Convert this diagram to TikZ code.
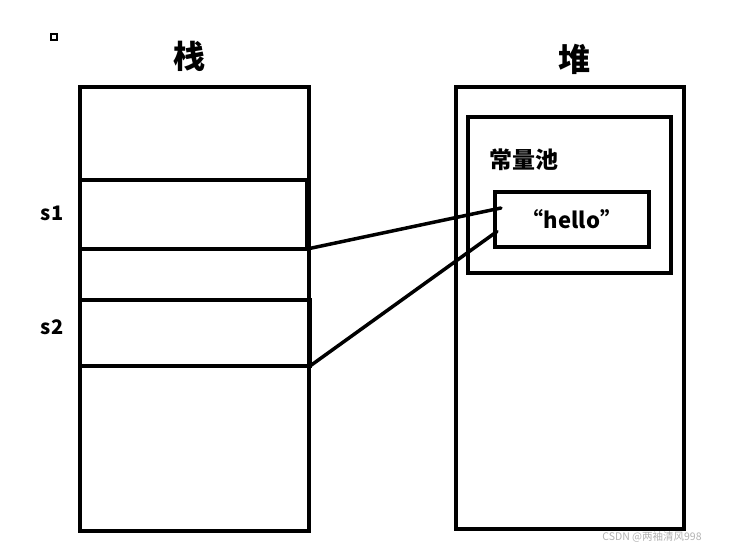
\documentclass[tikz,border=0pt]{standalone}
\usepackage{fontspec}
\setmainfont{Noto Sans CJK SC}
\usetikzlibrary{calc,positioning}

\begin{document}
\begin{tikzpicture}[
    x=1pt, y=-1pt,
    frame/.style={draw, line width=3.5pt, line join=miter, inner sep=0pt, outer sep=0pt},
    title/.style={font=\bfseries\fontsize{32}{34}\selectfont},
    label/.style={font=\bfseries\fontsize{20}{22}\selectfont},
    link/.style={draw, line width=3.5pt, line cap=round}
]
\useasboundingbox (0,0) rectangle (740,549);
% small marker top left
\node[draw, line width=1.2pt, minimum size=6pt, inner sep=0pt] (mark) at (54,37) {};
% stack
\node[title] (stacktitle) at (189,56) {栈};
\node[frame, minimum width=229pt, minimum height=444pt, anchor=north west] (stack) at (80,87) {};
\node[frame, minimum width=227pt, minimum height=69pt, anchor=north west] (s1) at (80,180) {};
\node[frame, minimum width=230pt, minimum height=66pt, anchor=north west] (s2) at (80,300) {};
\node[label] (s1lab) at (52,213) {s1};
\node[label] (s2lab) at (52,327) {s2};
% heap
\node[title] (heaptitle) at (574,59) {堆};
\node[frame, minimum width=228pt, minimum height=442pt, anchor=north west] (heap) at (456,87) {};
\node[frame, minimum width=203pt, minimum height=156pt, anchor=north west] (pool) at (468,117) {};
\node[font=\bfseries\fontsize{23}{25}\selectfont] (poollab) at (524,160) {常量池};
\node[frame, font=\bfseries\fontsize{22}{24}\selectfont, minimum width=154pt, minimum height=55pt, anchor=north west] (hello) at (495,192) {“hello”};
% references
\draw[link] (s1.south east) -- ($(hello.north west)+(6,16)$);
\draw[link] (s2.south east) -- ($(hello.west)+(2,12)$);
% watermark
\node[text=black!30, font=\fontsize{10.5}{12}\selectfont] (wm) at (652,537) {CSDN @两袖清风998};
\end{tikzpicture}
\end{document}
